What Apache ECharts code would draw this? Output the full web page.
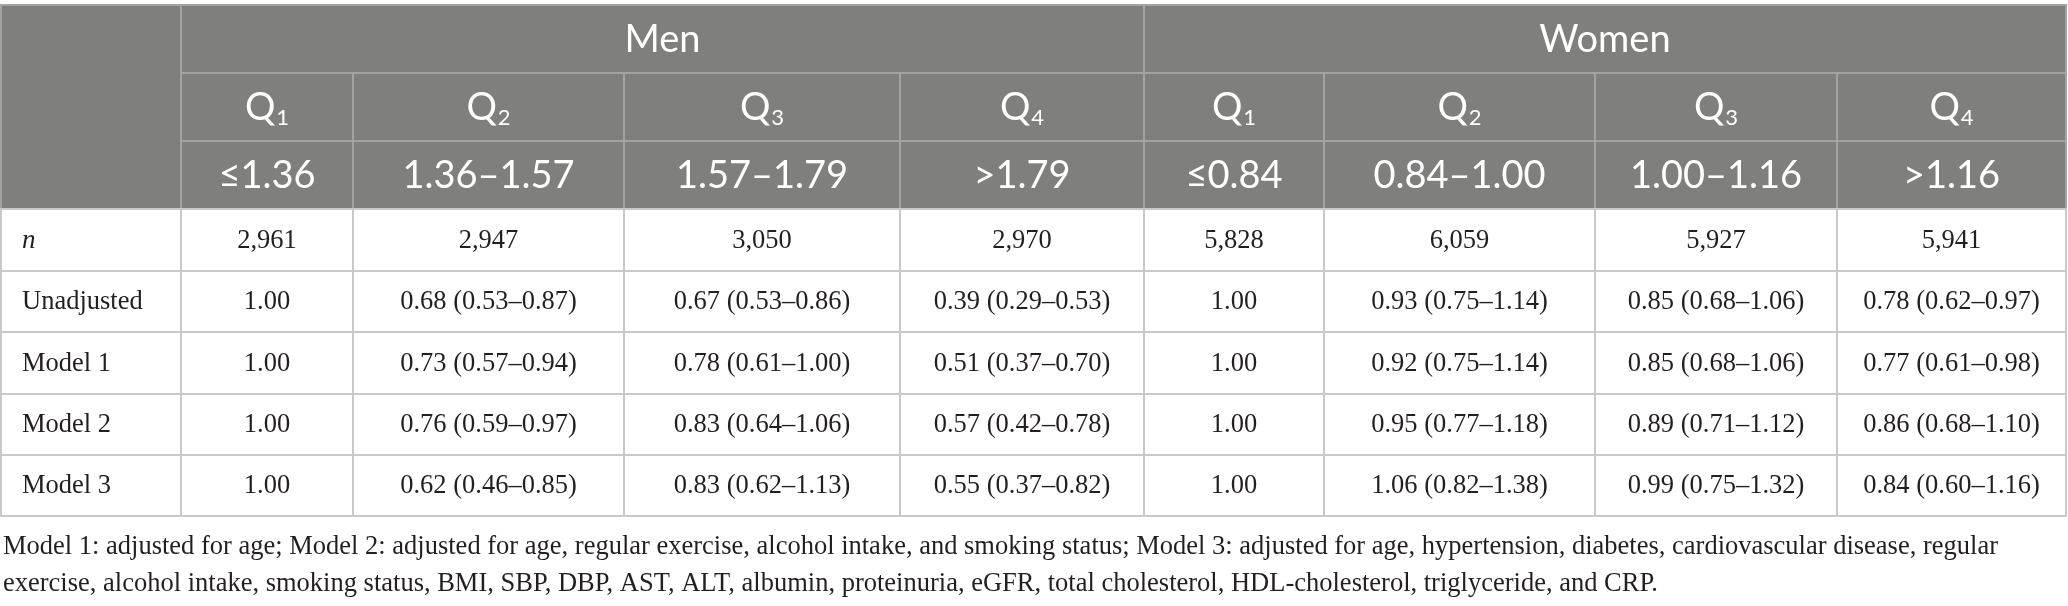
<!DOCTYPE html>
<html>
<head>
<meta charset="utf-8">
<script src="https://cdn.jsdelivr.net/npm/echarts@6/dist/echarts.min.js"></script>
<style>
  html, body { margin: 0; padding: 0; background: #fff; }
  #main { width: 2068px; height: 606px; }
</style>
</head>
<body>
<div id="main"></div>
<script>
'use strict';

// table content
var groups = ['Men', 'Women'];
var quartiles = ['1', '2', '3', '4'];
var menRanges = ['≤1.36', '1.36–1.57', '1.57–1.79', '>1.79'];
var womenRanges = ['≤0.84', '0.84–1.00', '1.00–1.16', '>1.16'];
var rowLabels = ['n', 'Unadjusted', 'Model 1', 'Model 2', 'Model 3'];
var menValues = [
    ['2,961', '2,947', '3,050', '2,970'],
    ['1.00', '0.68 (0.53–0.87)', '0.67 (0.53–0.86)', '0.39 (0.29–0.53)'],
    ['1.00', '0.73 (0.57–0.94)', '0.78 (0.61–1.00)', '0.51 (0.37–0.70)'],
    ['1.00', '0.76 (0.59–0.97)', '0.83 (0.64–1.06)', '0.57 (0.42–0.78)'],
    ['1.00', '0.62 (0.46–0.85)', '0.83 (0.62–1.13)', '0.55 (0.37–0.82)']
];
var womenValues = [
    ['5,828', '6,059', '5,927', '5,941'],
    ['1.00', '0.93 (0.75–1.14)', '0.85 (0.68–1.06)', '0.78 (0.62–0.97)'],
    ['1.00', '0.92 (0.75–1.14)', '0.85 (0.68–1.06)', '0.77 (0.61–0.98)'],
    ['1.00', '0.95 (0.77–1.18)', '0.89 (0.71–1.12)', '0.86 (0.68–1.10)'],
    ['1.00', '1.06 (0.82–1.38)', '0.99 (0.75–1.32)', '0.84 (0.60–1.16)']
];
var footnoteLines = [
    'Model 1: adjusted for age; Model 2: adjusted for age, regular exercise, alcohol intake, and smoking status; Model 3: adjusted for age, hypertension, diabetes, cardiovascular disease, regular',
    'exercise, alcohol intake, smoking status, BMI, SBP, DBP, AST, ALT, albumin, proteinuria, eGFR, total cholesterol, HDL-cholesterol, triglyceride, and CRP.'
];

// layout (column and row edges in the table's own units)
var colEdges = [1, 181, 353, 624, 900, 1144, 1324, 1595, 1837, 2066];
var rowEdges = [5, 73, 141, 209, 271, 332, 394, 455, 516];
var footnoteY = [550, 587];

var HEAD_BG = '#7f807e';
var HEAD_LINE = '#a3a4a2';
var BODY_LINE = '#c9c9c9';
var HEAD_FONT = 'Lato, "Open Sans", sans-serif';
var BODY_FONT = '"Liberation Serif", "DejaVu Serif", serif';
var TEXT_COLOR = '#231f20';

// cells: [c0, c1, r0, r1, text, kind]
var cells = [];
cells.push([0, 1, 0, 3, '', 'head']);
groups.forEach(function(g, gi) {
    cells.push([1 + gi * 4, 5 + gi * 4, 0, 1, g, 'head']);
    quartiles.forEach(function(q, qi) {
        cells.push([1 + gi * 4 + qi, 2 + gi * 4 + qi, 1, 2, '{q|Q}{sub|' + q + '}', 'head']);
        var ranges = gi === 0 ? menRanges : womenRanges;
        cells.push([1 + gi * 4 + qi, 2 + gi * 4 + qi, 2, 3, ranges[qi], 'head']);
    });
});
rowLabels.forEach(function(lab, ri) {
    cells.push([0, 1, 3 + ri, 4 + ri, lab, ri === 0 ? 'labelItalic' : 'label']);
    menValues[ri].forEach(function(v, ci) {
        cells.push([1 + ci, 2 + ci, 3 + ri, 4 + ri, v, 'body']);
    });
    womenValues[ri].forEach(function(v, ci) {
        cells.push([5 + ci, 6 + ci, 3 + ri, 4 + ri, v, 'body']);
    });
});

function renderCell(params, api) {
    var c0 = api.value(0), c1 = api.value(1), r0 = api.value(2), r1 = api.value(3);
    var kind = cells[params.dataIndex][5];
    var text = cells[params.dataIndex][4];
    var p0 = api.coord([colEdges[c0], rowEdges[r0]]);
    var p1 = api.coord([colEdges[c1], rowEdges[r1]]);
    var w = p1[0] - p0[0], h = p1[1] - p0[1];
    var isHead = kind === 'head';
    var children = [{
        type: 'rect',
        shape: { x: p0[0], y: p0[1], width: w, height: h },
        style: {
            fill: isHead ? HEAD_BG : '#fff',
            stroke: isHead ? HEAD_LINE : BODY_LINE,
            lineWidth: 2
        }
    }];
    if (text) {
        var left = kind === 'label' || kind === 'labelItalic';
        children.push({
            type: 'text',
            x: left ? p0[0] + 21 : p0[0] + w / 2,
            y: p0[1] + h / 2 + 1,
            style: {
                text: text,
                fill: isHead ? '#fff' : TEXT_COLOR,
                font: isHead ? '38px ' + HEAD_FONT : (kind === 'labelItalic' ? 'italic 27px ' : '26.5px ') + BODY_FONT,
                align: left ? 'left' : 'center',
                verticalAlign: 'middle',
                rich: {
                    q: { fontSize: 38, fontFamily: HEAD_FONT, fill: '#fff', color: '#fff' },
                    sub: { fontSize: 22, fontFamily: HEAD_FONT, fill: '#fff', color: '#fff', padding: [19, 0, 0, 1] }
                }
            }
        });
    }
    return { type: 'group', children: children };
}

var chart = echarts.init(document.getElementById('main'), null, { renderer: 'canvas' });
chart.setOption({
    animation: false,
    backgroundColor: '#fff',
    grid: { left: 0, top: 0, width: 2068, height: 606 },
    xAxis: { type: 'value', min: 0, max: 2068, show: false },
    yAxis: { type: 'value', min: 0, max: 606, inverse: true, show: false },
    series: [{
        type: 'custom',
        renderItem: renderCell,
        data: cells.map(function(c) { return [c[0], c[1], c[2], c[3]]; }),
        silent: true
    }],
    graphic: footnoteLines.map(function(t, i) {
        return {
            type: 'text',
            left: 3,
            top: footnoteY[i] - 16,
            style: { text: t, fill: TEXT_COLOR, font: '26.5px ' + BODY_FONT }
        };
    })
});
</script>
</body>
</html>
